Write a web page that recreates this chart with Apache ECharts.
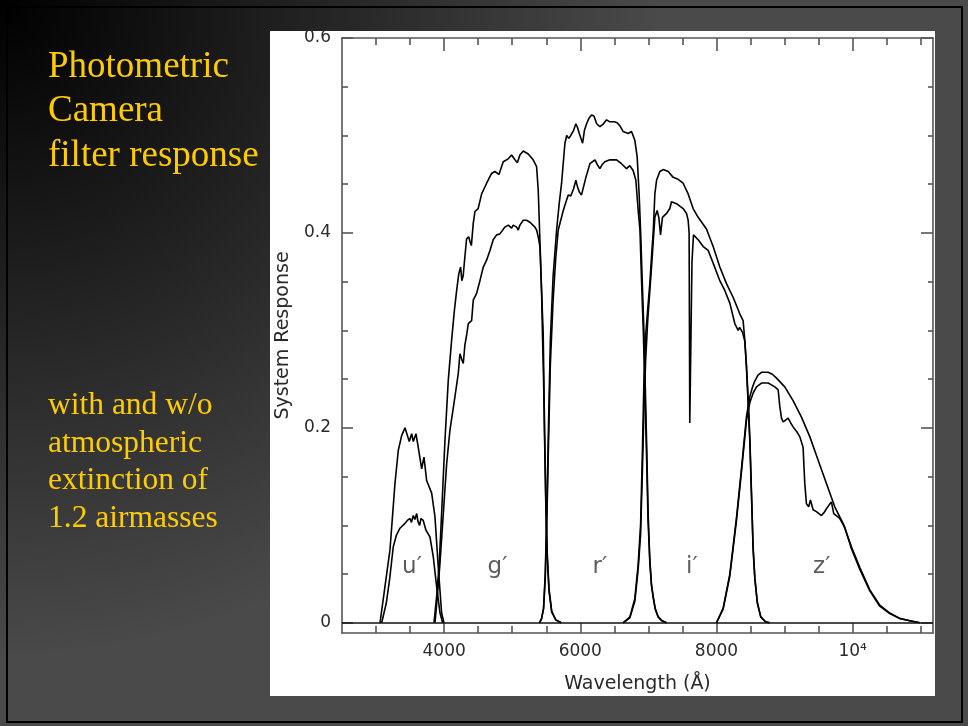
<!DOCTYPE html>
<html><head><meta charset="utf-8">
<script src="https://cdn.jsdelivr.net/npm/echarts@6/dist/echarts.min.js"></script>
<style>html,body{margin:0;padding:0;background:#4a4a4a;} #c{width:968px;height:726px;}</style>
</head><body><div id="c"></div>
<script>
// ---- Data: [wavelength (Å), system response] ----
const uNoAtm = [[3058,0],[3131,0.037],[3205,0.075],[3278,0.143],[3327,0.177],[3376,0.192],[3425,0.2],[3450,0.201],[3488,0.186],[3523,0.194],[3547,0.186],[3586,0.194],[3620,0.18],[3670,0.158],[3704,0.17],[3743,0.146],[3817,0.133],[3865,0.109],[3914,0.057],[3963,0.01],[3997,0]];
const uAtm = [[3083,0],[3150,0.02],[3200,0.045],[3253,0.078],[3300,0.09],[3351,0.097],[3425,0.102],[3460,0.105],[3498,0.107],[3520,0.103],[3547,0.11],[3570,0.106],[3597,0.112],[3615,0.104],[3640,0.1],[3660,0.107],[3693,0.105],[3733,0.095],[3792,0.088],[3840,0.068],[3890,0.037],[3939,0.01],[3978,0]];
const gNoAtm = [[3851,0],[3890,0.027],[3928,0.061],[3963,0.112],[4012,0.187],[4061,0.249],[4110,0.29],[4150,0.32],[4184,0.341],[4215,0.358],[4242,0.365],[4260,0.351],[4280,0.356],[4300,0.372],[4330,0.394],[4360,0.396],[4385,0.39],[4400,0.387],[4428,0.41],[4453,0.422],[4500,0.425],[4551,0.44],[4624,0.451],[4697,0.461],[4745,0.463],[4805,0.46],[4868,0.473],[4942,0.476],[4991,0.48],[5040,0.475],[5075,0.472],[5113,0.48],[5162,0.484],[5235,0.481],[5308,0.475],[5358,0.468],[5382,0.444],[5407,0.392],[5431,0.341],[5455,0.297],[5475,0.2],[5495,0.12],[5515,0.07],[5540,0.035],[5580,0.012],[5640,0.003],[5720,0]];
const gAtm = [[3866,0],[3900,0.027],[3939,0.061],[3988,0.112],[4037,0.163],[4086,0.198],[4159,0.232],[4208,0.256],[4232,0.276],[4260,0.27],[4281,0.266],[4305,0.285],[4330,0.295],[4355,0.307],[4404,0.31],[4428,0.331],[4477,0.338],[4526,0.351],[4575,0.365],[4624,0.372],[4673,0.382],[4721,0.393],[4771,0.398],[4819,0.399],[4893,0.406],[4942,0.408],[4991,0.405],[5015,0.408],[5065,0.406],[5088,0.403],[5113,0.408],[5162,0.413],[5211,0.413],[5260,0.411],[5333,0.406],[5358,0.403],[5382,0.396],[5407,0.386],[5431,0.341],[5446,0.29],[5460,0.25],[5475,0.19],[5495,0.115],[5515,0.067],[5540,0.033],[5580,0.011],[5640,0.003],[5720,0]];
const rNoAtm = [[5400,0],[5430,0.004],[5460,0.015],[5485,0.05],[5510,0.12],[5535,0.21],[5560,0.29],[5600,0.355],[5652,0.403],[5690,0.43],[5725,0.451],[5774,0.492],[5800,0.5],[5830,0.497],[5860,0.5],[5900,0.505],[5935,0.512],[5960,0.508],[5985,0.502],[6034,0.492],[6060,0.505],[6092,0.512],[6130,0.518],[6166,0.521],[6200,0.52],[6240,0.512],[6288,0.509],[6340,0.512],[6386,0.516],[6434,0.514],[6460,0.512],[6500,0.514],[6541,0.513],[6580,0.51],[6630,0.504],[6703,0.502],[6752,0.504],[6801,0.495],[6835,0.478],[6864,0.44],[6885,0.403],[6910,0.35],[6934,0.3],[6955,0.24],[6973,0.187],[6997,0.11],[7021,0.065],[7045,0.04],[7070,0.027],[7100,0.015],[7144,0.006],[7200,0.002],[7266,0]];
const rAtm = [[5400,0],[5430,0.004],[5460,0.014],[5485,0.045],[5510,0.11],[5535,0.19],[5560,0.265],[5600,0.33],[5640,0.375],[5676,0.403],[5750,0.423],[5790,0.432],[5823,0.439],[5860,0.438],[5900,0.445],[5935,0.454],[5960,0.447],[5985,0.442],[6018,0.439],[6050,0.448],[6082,0.457],[6141,0.471],[6215,0.475],[6250,0.47],[6288,0.466],[6320,0.47],[6360,0.473],[6434,0.475],[6532,0.475],[6605,0.471],[6679,0.466],[6727,0.469],[6776,0.464],[6816,0.454],[6850,0.423],[6876,0.403],[6900,0.35],[6925,0.3],[6950,0.235],[6970,0.18],[6995,0.105],[7021,0.062],[7045,0.038],[7070,0.026],[7100,0.014],[7144,0.006],[7200,0.002],[7266,0]];
const iNoAtm = [[6630,0],[6728,0.006],[6801,0.025],[6850,0.06],[6885,0.1],[6910,0.17],[6935,0.25],[6960,0.295],[6990,0.322],[7021,0.348],[7050,0.38],[7070,0.4],[7095,0.44],[7120,0.454],[7168,0.463],[7217,0.465],[7291,0.463],[7364,0.457],[7437,0.455],[7510,0.451],[7584,0.44],[7657,0.425],[7731,0.416],[7853,0.404],[7951,0.386],[8049,0.365],[8147,0.348],[8244,0.334],[8342,0.317],[8391,0.31],[8416,0.29],[8440,0.265],[8465,0.23],[8490,0.19],[8514,0.135],[8538,0.078],[8563,0.047],[8600,0.021],[8650,0.006],[8720,0.001],[8780,0]];
const iAtm = [[6630,0],[6728,0.005],[6801,0.022],[6850,0.055],[6885,0.09],[6910,0.15],[6935,0.22],[6960,0.27],[6990,0.31],[7046,0.365],[7095,0.416],[7129,0.423],[7155,0.415],[7178,0.398],[7207,0.416],[7266,0.42],[7315,0.425],[7339,0.432],[7413,0.43],[7510,0.425],[7560,0.42],[7584,0.413],[7598,0.4],[7608,0.205],[7640,0.37],[7662,0.398],[7731,0.393],[7805,0.386],[7878,0.382],[7951,0.369],[8049,0.351],[8122,0.341],[8196,0.328],[8269,0.307],[8318,0.3],[8340,0.303],[8353,0.305],[8382,0.298],[8416,0.289],[8440,0.262],[8465,0.225],[8490,0.185],[8514,0.13],[8538,0.075],[8563,0.045],[8600,0.02],[8650,0.006],[8720,0.001],[8780,0]];
const zNoAtm = [[8000,0],[8098,0.015],[8196,0.05],[8294,0.108],[8367,0.158],[8441,0.212],[8490,0.232],[8530,0.242],[8563,0.248],[8610,0.254],[8661,0.257],[8759,0.257],[8820,0.255],[8882,0.251],[9003,0.242],[9125,0.228],[9248,0.211],[9370,0.191],[9492,0.167],[9615,0.143],[9737,0.119],[9859,0.102],[9982,0.078],[10104,0.057],[10250,0.034],[10398,0.018],[10545,0.01],[10691,0.0045],[10838,0.002],[10985,0]];
const zAtm = [[8000,0],[8098,0.014],[8196,0.048],[8294,0.105],[8367,0.155],[8441,0.208],[8490,0.226],[8540,0.236],[8588,0.242],[8661,0.246],[8759,0.246],[8857,0.242],[8906,0.239],[8930,0.222],[8955,0.21],[8979,0.206],[9015,0.208],[9052,0.21],[9090,0.205],[9125,0.201],[9180,0.196],[9223,0.191],[9272,0.18],[9285,0.16],[9297,0.143],[9321,0.122],[9355,0.119],[9380,0.126],[9395,0.126],[9419,0.116],[9468,0.114],[9541,0.11],[9580,0.113],[9615,0.117],[9655,0.121],[9688,0.124],[9722,0.112],[9811,0.107],[9884,0.098],[9982,0.076],[10104,0.055],[10250,0.033],[10398,0.017],[10545,0.0095],[10691,0.0043],[10838,0.002],[10985,0]];

const curves = [uNoAtm, uAtm, gNoAtm, gAtm, rNoAtm, rAtm, iNoAtm, iAtm, zNoAtm, zAtm];

const bandNames = ['u\u2032', 'g\u2032', 'r\u2032', 'i\u2032', 'z\u2032'];
const bandLabelWave = [3528, 4783, 6287, 7638, 9546];
const bandLabelResp = [0.057, 0.057, 0.057, 0.057, 0.057];

const xMin = 2500, xMax = 11180;
const yMin = -0.0105, yMax = 0.6;
const xMajorTicks = [4000, 6000, 8000, 10000];
const xTickLabels = ['4000', '6000', '8000', '10\u2074'];
const xMinorTicks = [3000, 3500, 4500, 5000, 5500, 6500, 7000, 7500, 8500, 9000, 9500, 10500, 11000];
const yMajorTicks = [0, 0.2, 0.4, 0.6];
const yTickLabels = ['0', '0.2', '0.4', '0.6'];
const yMinorTicks = [0.05, 0.1, 0.15, 0.25, 0.3, 0.35, 0.45, 0.5, 0.55];

const titleLines = ['Photometric', 'Camera', 'filter response'];
const noteLines = ['with and w/o', 'atmospheric', 'extinction of', '1.2 airmasses'];
const xName = 'Wavelength (\u00c5)';
const yName = 'System Response';

// ---- Chart ----
const AX = '#555', TXT = '#2a2a2a', FONT = 'DejaVu Sans';
const lineSt = {color: AX, width: 1.6};

function xAxisDef(pos, ticks, len, showLine, withLabels) {
  return {
    type: 'value', min: xMin, max: xMax, position: pos,
    axisLine: {show: showLine, onZero: false, lineStyle: lineSt},
    axisTick: {show: true, inside: true, length: len, customValues: ticks, lineStyle: lineSt},
    axisLabel: withLabels ? {show: true, customValues: ticks, margin: 10, color: TXT, fontSize: 17, fontFamily: FONT,
      formatter: v => xTickLabels[xMajorTicks.indexOf(v)]} : {show: false},
    splitLine: {show: false},
    name: withLabels ? xName : '', nameLocation: 'middle', nameGap: 42,
    nameTextStyle: {fontSize: 19, color: TXT, fontFamily: FONT}
  };
}
function yAxisDef(pos, ticks, len, showLine, withLabels) {
  return {
    type: 'value', min: yMin, max: yMax, position: pos,
    axisLine: {show: showLine, onZero: false, lineStyle: lineSt},
    axisTick: {show: true, inside: true, length: len, customValues: ticks, lineStyle: lineSt},
    axisLabel: withLabels ? {show: true, customValues: ticks, margin: 11, color: TXT, fontSize: 17, fontFamily: FONT,
      formatter: v => yTickLabels[yMajorTicks.findIndex(t => Math.abs(t - v) < 1e-9)]} : {show: false},
    splitLine: {show: false},
    name: withLabels ? yName : '', nameLocation: 'middle', nameGap: 49,
    nameTextStyle: {fontSize: 19, color: TXT, fontFamily: FONT}
  };
}

const series = curves.map((d, i) => ({
  type: 'line', data: d, xAxisIndex: 0, yAxisIndex: 0,
  symbol: 'none', showSymbol: false, silent: true, z: 3,
  lineStyle: {color: '#000', width: 1.6},
  markLine: i === 0 ? {silent: true, symbol: ['none', 'none'], label: {show: false},
    lineStyle: {color: '#111', width: 1.6, type: 'solid'}, data: [{yAxis: 0}]} : undefined
}));
series.push({
  type: 'scatter', xAxisIndex: 0, yAxisIndex: 0, silent: true, z: 4,
  data: bandNames.map((n, i) => [bandLabelWave[i], bandLabelResp[i], n]),
  symbolSize: 1, itemStyle: {color: 'rgba(0,0,0,0)'},
  label: {show: true, position: 'inside', formatter: p => p.data[2], fontSize: 23, color: '#333', fontFamily: FONT}
});

const option = {
  animation: false,
  grid: {left: 342, right: 35, top: 38, bottom: 93, containLabel: false},
  xAxis: [
    xAxisDef('bottom', xMajorTicks, 10, true, true),
    xAxisDef('bottom', xMinorTicks, 7, false, false),
    xAxisDef('top', xMajorTicks, 13, true, false),
    xAxisDef('top', xMinorTicks, 7, false, false)
  ],
  yAxis: [
    yAxisDef('left', yMajorTicks, 11, true, true),
    yAxisDef('left', yMinorTicks, 6, false, false),
    yAxisDef('right', yMajorTicks, 12, true, false),
    yAxisDef('right', yMinorTicks, 5, false, false)
  ],
  graphic: [
    {type: 'rect', z: -20, silent: true, shape: {x: 0, y: 0, width: 968, height: 726},
      style: {fill: new echarts.graphic.RadialGradient(0, 0, 660, [
        {offset: 0, color: '#000000'}, {offset: 1, color: '#4a4a4a'}], true)}},
    {type: 'rect', z: -19, silent: true, shape: {x: 7, y: 7, width: 955, height: 715},
      style: {fill: 'none', stroke: '#000', lineWidth: 2}},
    {type: 'rect', z: -18, silent: true, shape: {x: 270, y: 31, width: 665, height: 665},
      style: {fill: '#ffffff'}},
    {type: 'text', z: -17, silent: true,
      style: {text: titleLines.join('\n'), x: 48, y: 45, fill: '#FFCC00', fontSize: 37,
        fontFamily: 'Liberation Serif', lineHeight: 44.5, verticalAlign: 'top'}},
    {type: 'text', z: -17, silent: true,
      style: {text: noteLines.join('\n'), x: 48, y: 387, fill: '#FFCC00', fontSize: 31.5,
        fontFamily: 'Liberation Serif', lineHeight: 37.5, verticalAlign: 'top'}}
  ],
  series: series
};

const chart = echarts.init(document.getElementById('c'), null, {renderer: 'canvas'});
chart.setOption(option);
</script></body></html>
